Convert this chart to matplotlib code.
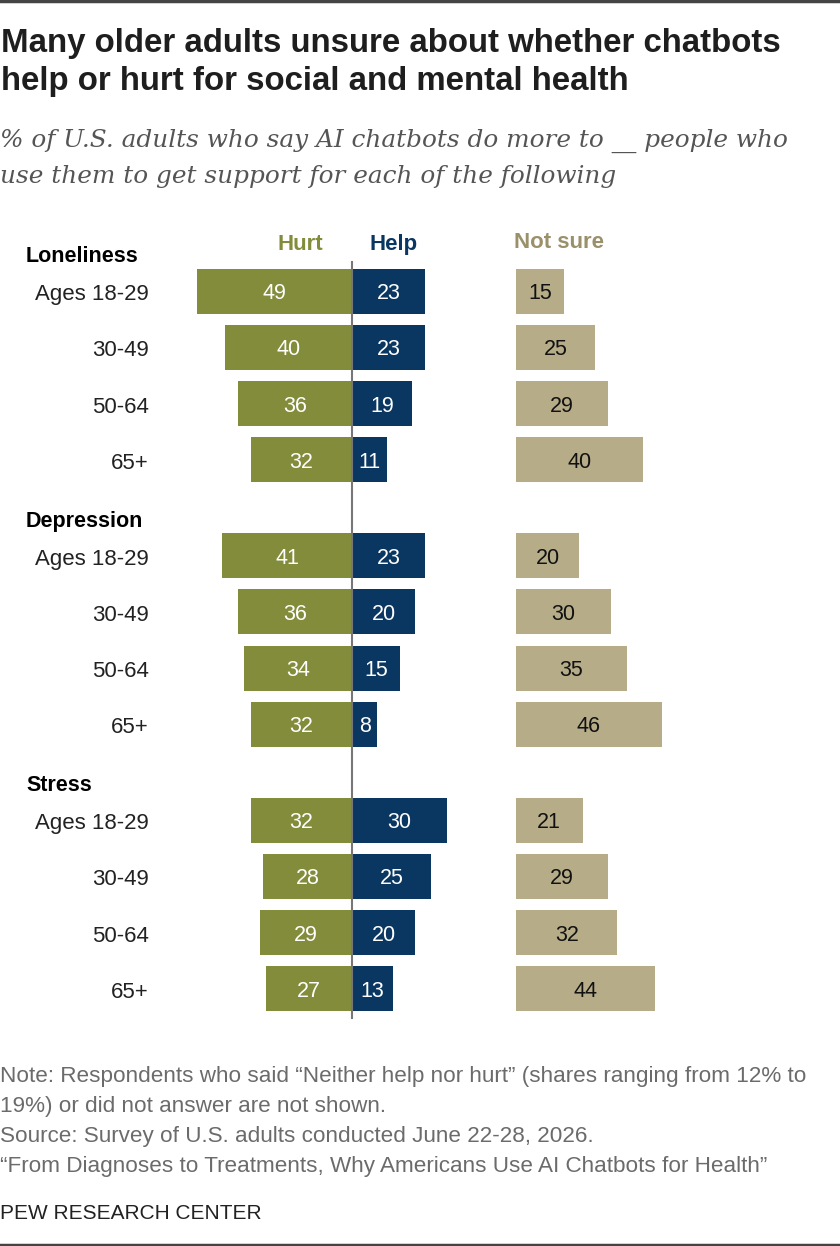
import numpy as np
import matplotlib
matplotlib.use("Agg")
import matplotlib.pyplot as plt

# data
grupos = ["Loneliness", "Depression", "Stress"]
edades = ["Ages 18-29", "30-49", "50-64", "65+"]
hurt = [[49, 40, 36, 32], [41, 36, 34, 32], [32, 28, 29, 27]]
help_ = [[23, 23, 19, 11], [23, 20, 15, 8], [30, 25, 20, 13]]
not_sure = [[15, 25, 29, 40], [20, 30, 35, 46], [21, 29, 32, 44]]

titulo = ["Many older adults unsure about whether chatbots",
          "help or hurt for social and mental health"]
subtitulo = ["% of U.S. adults who say AI chatbots do more to __ people who",
             "use them to get support for each of the following"]
notas = ["Note: Respondents who said \u201cNeither help nor hurt\u201d (shares ranging from 12% to",
         "19%) or did not answer are not shown.",
         "Source: Survey of U.S. adults conducted June 22-28, 2026.",
         "\u201cFrom Diagnoses to Treatments, Why Americans Use AI Chatbots for Health\u201d"]

VERDE = "#828c3a"
AZUL = "#0a3761"
TAN = "#b6ad88"
SANS = "Liberation Sans"
SERIF = "DejaVu Serif"

W, H = 840, 1246
ESC = 3.17          # pixels per percentage point
CERO = 352          # pixel x of the zero line
OFF_NS = (516 - CERO) / ESC

def px(x):
    return (x - CERO) / ESC

fig = plt.figure(figsize=(W / 100, H / 100), dpi=100)
ax = fig.add_axes([0, 0, 1, 1])
ax.set_xlim(px(0), px(W))
ax.set_ylim(H, 0)
ax.axis("off")

filas = []
for g in range(len(grupos)):
    for r in range(len(edades)):
        filas.append(291 + g * 264.5 + r * 56.3)
filas = np.array(filas)
h = np.array(hurt).ravel()
p = np.array(help_).ravel()
n = np.array(not_sure).ravel()

ax.barh(filas, -h, height=45, color=VERDE)
ax.barh(filas, p, height=45, color=AZUL)
ax.barh(filas, n, left=OFF_NS, height=45, color=TAN)
ax.plot([0, 0], [262, 1018], color="#777777", lw=1.5)

for i, y in enumerate(filas):
    ax.text(-h[i] / 2, y + 8, str(h[i]), ha="center", va="baseline",
            color="white", fontsize=15.5, family=SANS)
    ax.text(p[i] / 2, y + 8, str(p[i]), ha="center", va="baseline",
            color="white", fontsize=15.5, family=SANS)
    ax.text(OFF_NS + n[i] / 2, y + 8, str(n[i]), ha="center", va="baseline",
            color="#111111", fontsize=15.5, family=SANS)
    ax.text(px(149), y + 9, edades[i % 4], ha="right", va="baseline",
            color="#222222", fontsize=16, family=SANS)

for g, nombre in enumerate(grupos):
    ax.text(px(26), filas[g * 4] - 29, nombre, ha="left", va="baseline",
            fontsize=15.5, fontweight="bold", family=SANS, color="black")

ax.text(px(300.5), 250, "Hurt", ha="center", va="baseline", color=VERDE,
        fontsize=16, fontweight="bold", family=SANS)
ax.text(px(394), 250, "Help", ha="center", va="baseline", color=AZUL,
        fontsize=16, fontweight="bold", family=SANS)
ax.text(px(514), 248, "Not sure", ha="left", va="baseline", color="#9a9069",
        fontsize=16, fontweight="bold", family=SANS)

# title, subtitle, footer
for k, linea in enumerate(titulo):
    fig.text(1 / W, 1 - (52 + 38 * k) / H, linea, ha="left", va="baseline",
             fontsize=23.8, fontweight="bold", family=SANS, color="#1e1e1e")
for k, linea in enumerate(subtitulo):
    fig.text(0, 1 - (147 + 36 * k) / H, linea, ha="left", va="baseline",
             fontsize=17.8, style="italic", family=SERIF, color="#555555")
for k, linea in enumerate(notas):
    fig.text(0, 1 - (1082 + 30 * k) / H, linea, ha="left", va="baseline",
             fontsize=16.2, family=SANS, color="#6b6b6b")
fig.text(0, 1 - 1219 / H, "PEW RESEARCH CENTER", ha="left", va="baseline",
         fontsize=15, family=SANS, color="#222222")

ax.plot([px(0), px(W)], [1, 1], color="#444444", lw=2.5, clip_on=False)
ax.plot([px(0), px(W)], [1245, 1245], color="#444444", lw=2.5, clip_on=False)

fig.savefig("out.png", dpi=100)
